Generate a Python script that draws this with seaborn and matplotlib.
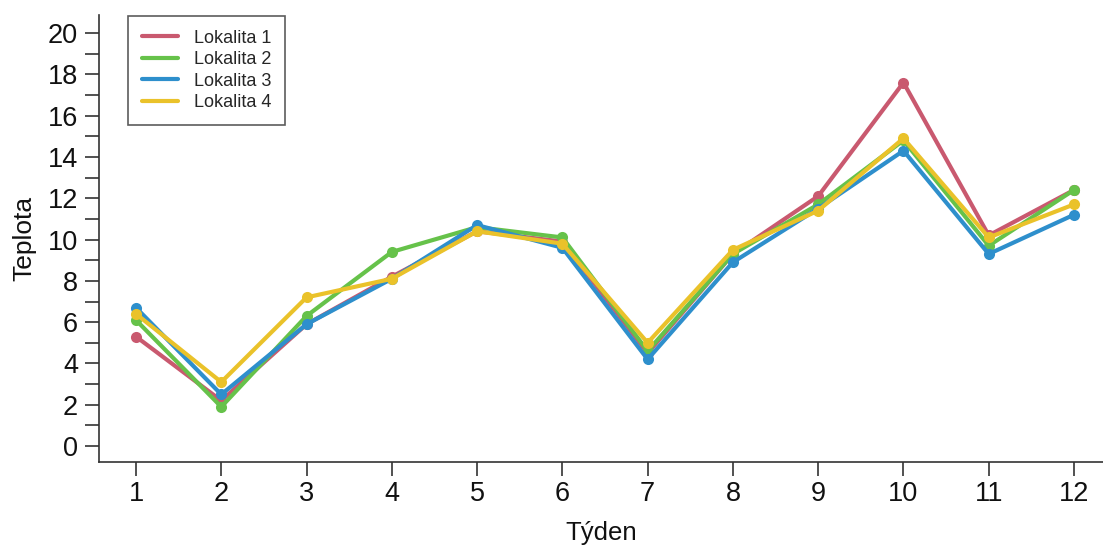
import numpy as np
import pandas as pd
import matplotlib
matplotlib.use("Agg")
import matplotlib.pyplot as plt
import seaborn as sns
from matplotlib.ticker import MultipleLocator

weeks = list(range(1, 13))
lokalita_1 = [5.3, 2.2, 5.9, 8.2, 10.4, 9.9, 4.5, 9.3, 12.1, 17.6, 10.2, 12.4]
lokalita_2 = [6.1, 1.9, 6.3, 9.4, 10.6, 10.1, 4.6, 9.3, 11.7, 14.8, 9.7, 12.4]
lokalita_3 = [6.7, 2.5, 5.9, 8.1, 10.7, 9.6, 4.2, 8.9, 11.5, 14.3, 9.3, 11.2]
lokalita_4 = [6.4, 3.1, 7.2, 8.1, 10.4, 9.8, 5.0, 9.5, 11.4, 14.9, 10.1, 11.7]
series_names = ["Lokalita 1", "Lokalita 2", "Lokalita 3", "Lokalita 4"]
colors = ["#C9596F", "#66C24A", "#2E8FCC", "#EAC22A"]

df = pd.concat([
    pd.DataFrame({"Týden": weeks, "Teplota": vals, "Lokalita": name})
    for name, vals in zip(series_names, [lokalita_1, lokalita_2, lokalita_3, lokalita_4])
])

sns.set_theme(style="ticks")
plt.rcParams["font.family"] = ["Liberation Sans", "DejaVu Sans"]

fig = plt.figure(figsize=(11.03, 5.48), dpi=100)
ax = fig.add_axes([99/1103, 1 - 462/548, 1 - 99/1103, (462 - 15)/548])

sns.lineplot(data=df, x="Týden", y="Teplota", hue="Lokalita", palette=colors,
             marker="o", markersize=8, markeredgewidth=0, linewidth=3, ax=ax)

ax.set_xlim(0.566, 12.34)
ax.set_ylim(-0.77, 20.87)
ax.set_xticks(weeks)
ax.yaxis.set_major_locator(MultipleLocator(2))
ax.yaxis.set_minor_locator(MultipleLocator(1))
ax.tick_params(axis="both", which="both", direction="out", length=10, width=1.2,
               color="#333333", labelsize=19.5, labelcolor="#111111")
ax.tick_params(axis="y", which="major", pad=5)
ax.tick_params(axis="x", which="major", pad=4)
for side in ["top", "right"]:
    ax.spines[side].set_visible(False)
for side in ["left", "bottom"]:
    ax.spines[side].set_color("#333333")
    ax.spines[side].set_linewidth(1.2)

ax.set_xlabel("Týden", fontsize=18.5, color="#111111", labelpad=10)
ax.set_ylabel("Teplota", fontsize=19, color="#111111", labelpad=8)

leg = ax.legend(loc="upper left", bbox_to_anchor=(29/1004, 1 - 1/447), frameon=True,
                fancybox=False, edgecolor="#333333", fontsize=13,
                handlelength=2.0, handletextpad=0.9, borderpad=0.75,
                labelspacing=0.25, borderaxespad=0, title=None)
leg.get_frame().set_linewidth(1.2)
for line in leg.get_lines():
    line.set_marker("")
    line.set_linewidth(3)

fig.savefig("out.png", dpi=100)
